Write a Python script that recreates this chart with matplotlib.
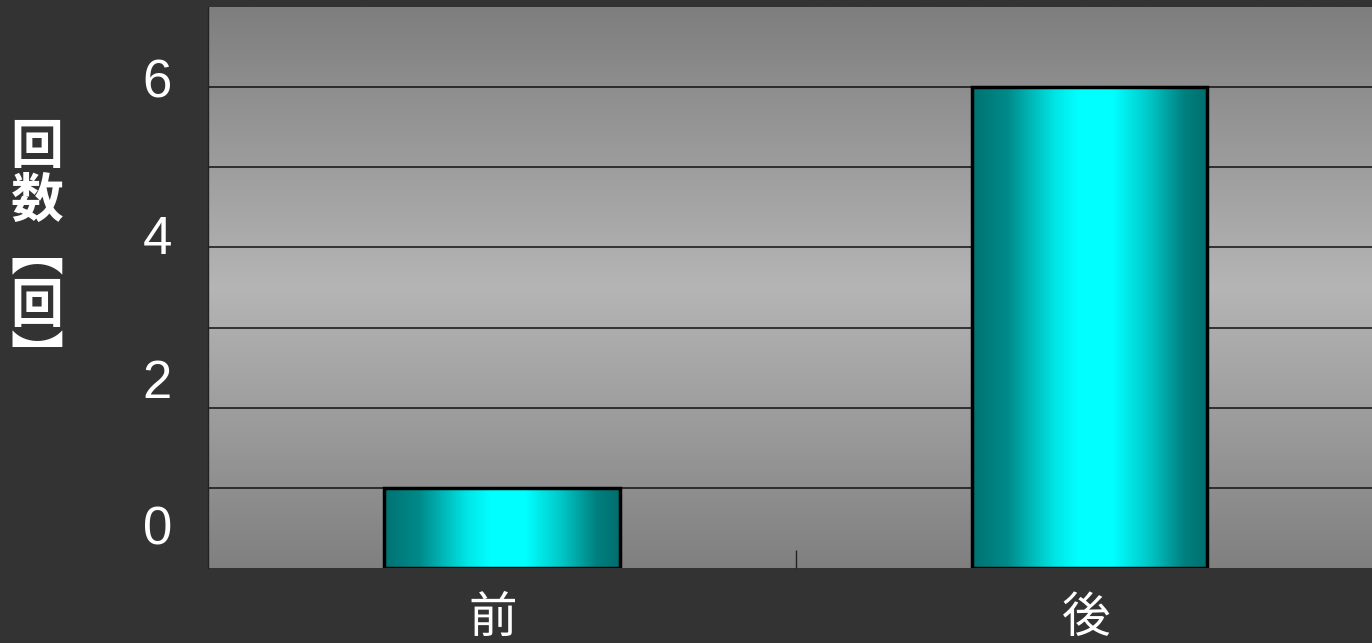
import numpy as np
import matplotlib
matplotlib.use("Agg")
import matplotlib.pyplot as plt
from matplotlib.colors import LinearSegmentedColormap
from matplotlib.transforms import ScaledTranslation

plt.rcParams['font.family'] = ['Noto Sans CJK JP', 'DejaVu Sans']

categories = ['前', '後']
values = [1, 6]
ytick_values = [0, 2, 4, 6]
ytick_labels = ['0', '2', '4', '6']
ylabel_chars = ['回', '数', '︻', '回', '︼']

W, H = 1372, 643
fig = plt.figure(figsize=(W / 100, H / 100), dpi=100, facecolor='#333333')
ax = fig.add_axes([208 / W, 1 - 568 / H, 1 - 208 / W, (568 - 7) / H])
ax.set_xlim(-0.5, 1.48)
ax.set_ylim(0, 7)

# background vertical gradient
bg_cmap = LinearSegmentedColormap.from_list(
    'bg', [(0.0, '#808080'), (0.5, '#b5b5b5'), (1.0, '#7e7e7e')])
grad = np.linspace(0, 1, 256).reshape(-1, 1)
ax.imshow(grad, cmap=bg_cmap, aspect='auto', extent=[0, 1, 0, 1],
          transform=ax.transAxes, zorder=0, origin='lower')

# gridlines
for v in range(1, 7):
    ax.axhline(v, color='#111111', lw=1.1, zorder=1)

# bars with horizontal gradient
bar_cmap = LinearSegmentedColormap.from_list(
    'bar', [(0.0, '#007272'), (0.15, '#008a8a'), (0.35, '#00e5e5'),
            (0.45, '#00ffff'), (0.6, '#00ffff'), (0.75, '#00c8c8'),
            (0.9, '#008080'), (1.0, '#006e6e')])
hgrad = np.linspace(0, 1, 256).reshape(1, -1)
x = np.arange(len(categories))
bars = ax.bar(x, values, width=0.4, facecolor='none', edgecolor='black',
              linewidth=2.5, zorder=3)
for b in bars:
    x0, y0 = b.get_x(), b.get_y()
    im = ax.imshow(hgrad, cmap=bar_cmap, aspect='auto',
                   extent=[x0, x0 + b.get_width(), y0, y0 + b.get_height()],
                   zorder=2)
    im.set_clip_path(b)

ax.set_xlim(-0.5, 1.48)
ax.set_ylim(0, 7)

for s in ['top', 'right', 'bottom']:
    ax.spines[s].set_visible(False)
ax.spines['left'].set_color('#222222')
ax.spines['left'].set_linewidth(1.0)

ax.set_xticks(x)
ax.set_xticklabels(categories, fontsize=35, color='white')
ax.tick_params(axis='x', length=0, pad=18)
for lab, dx in zip(ax.get_xticklabels(), [-9, -4]):
    lab.set_transform(lab.get_transform() +
                      ScaledTranslation(dx / 100, 0, fig.dpi_scale_trans))
ax.set_xticks([0.5], minor=True)
ax.tick_params(axis='x', which='minor', direction='in', length=13,
               color='#222222', width=1)

# y tick labels (placed as in the reference, slightly above their values)
ax.set_yticks(ytick_values)
ax.set_yticklabels(ytick_labels, fontsize=38, color='white',
                   family=['Liberation Sans', 'DejaVu Sans'])
ax.tick_params(axis='y', length=0, pad=26)
offsets_px = [43, 29, 13, 9]
for lab, off in zip(ax.get_yticklabels(), offsets_px):
    lab.set_transform(lab.get_transform() +
                      ScaledTranslation(0, off / 100, fig.dpi_scale_trans))

fig.text(37 / W, 1 - 254 / H, '\n'.join(ylabel_chars), color='white',
         fontsize=38, fontweight='bold', ha='center', va='center',
         linespacing=1.0)

fig.savefig('out.png', dpi=100, facecolor=fig.get_facecolor())
